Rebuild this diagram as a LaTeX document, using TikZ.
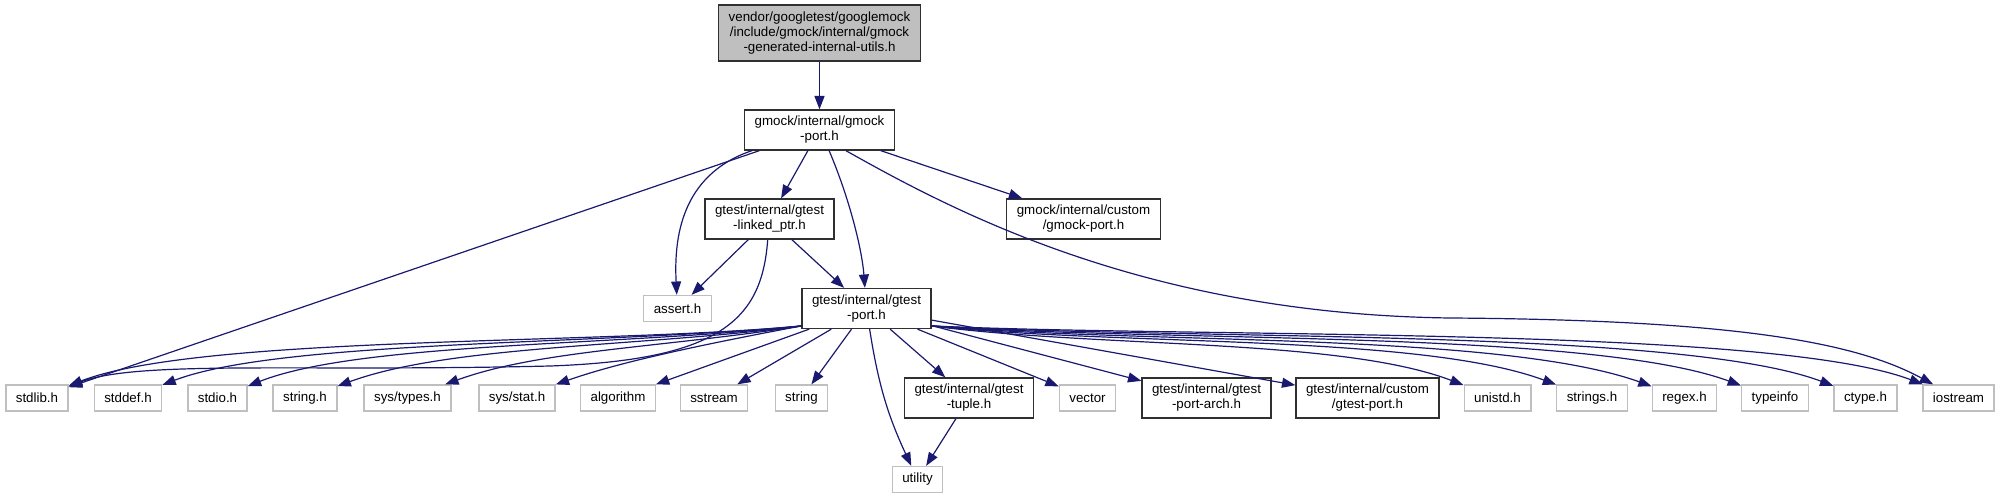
\documentclass[tikz,border=0pt]{standalone}
\usepackage{fontspec}
\setmainfont{Liberation Sans}
\usetikzlibrary{arrows.meta}

\definecolor{edgeblue}{HTML}{191970}
\definecolor{hdrline}{HTML}{303030}
\definecolor{sysline}{HTML}{BFBFBF}
\definecolor{topgray}{HTML}{BFBFBF}

\begin{document}
\begin{tikzpicture}[x=0.75pt, y=-0.75pt,
    every node/.style={rectangle, fill=white, font=\fontsize{10}{11.3}\selectfont, align=center, inner xsep=7.5pt, inner ysep=0pt, line width=1pt},
    hdr/.style={draw=hdrline, minimum height=30pt},
    syshdr/.style={draw=sysline, minimum height=19.5pt},
    arrow/.style={->, >={Triangle[length=10pt, width=7.5pt]}, draw=edgeblue, line width=0.9pt}
]
\useasboundingbox (0,0) rectangle (2003,499);

% Nodos de arriba
\node[hdr, fill=topgray, minimum height=42pt] (top) at (819.5,33) {vendor/googletest/googlemock\\/include/gmock/internal/gmock\\-generated-internal-utils.h};
\node[hdr] (gmockport) at (819.5,130) {gmock/internal/gmock\\-port.h};
\node[hdr] (linkedptr) at (769.5,219) {gtest/internal/gtest\\-linked\_ptr.h};
\node[hdr] (gmockcustom) at (1083.5,219) {gmock/internal/custom\\/gmock-port.h};
\node[syshdr] (assert) at (677.5,308.5) {assert.h};
\node[hdr] (gtestport) at (866.5,308.5) {gtest/internal/gtest\\-port.h};

% Fila de abajo
\node[syshdr] (stdlib) at (37,398) {stdlib.h};
\node[syshdr] (stddef) at (128,398) {stddef.h};
\node[syshdr] (stdio) at (217.5,398) {stdio.h};
\node[syshdr] (stringh) at (305,398) {string.h};
\node[syshdr] (systypes) at (407.5,398) {sys/types.h};
\node[syshdr] (sysstat) at (517,398) {sys/stat.h};
\node[syshdr] (algorithm) at (618,398) {algorithm};
\node[syshdr] (sstream) at (714,398) {sstream};
\node[syshdr] (string) at (801.5,398) {string};
\node[hdr] (tuple) at (969,398) {gtest/internal/gtest\\-tuple.h};
\node[syshdr] (vector) at (1087.5,398) {vector};
\node[hdr] (portarch) at (1206.5,398) {gtest/internal/gtest\\-port-arch.h};
\node[hdr] (gtestcustom) at (1367.5,398) {gtest/internal/custom\\/gtest-port.h};
\node[syshdr] (unistd) at (1497.5,398) {unistd.h};
\node[syshdr] (strings) at (1592,398) {strings.h};
\node[syshdr] (regex) at (1684.5,398) {regex.h};
\node[syshdr] (typeinfo) at (1775,398) {typeinfo};
\node[syshdr] (ctype) at (1865.5,398) {ctype.h};
\node[syshdr] (iostream) at (1958.5,398) {iostream};
\node[syshdr] (utility) at (917.5,479.5) {utility};

% Flechas de arriba
\draw[arrow] (top) -- (gmockport);
\draw[arrow] (gmockport) -- (linkedptr);
\draw[arrow] (gmockport) -- (gmockcustom);
\draw[arrow] (gmockport) -- (stdlib);
\draw[arrow] (gmockport.197) .. controls (680,175) and (674,240) .. (assert);
\draw[arrow] (gmockport.295) .. controls (850,200) and (862,250) .. (gtestport);
\draw[arrow] (gmockport.322) .. controls (960,215) and (1150,314) .. (1450,318) .. controls (1750,320) and (1860,345) .. (iostream);
\draw[arrow] (linkedptr) -- (assert);
\draw[arrow] (linkedptr) -- (gtestport);
\draw[arrow] (linkedptr.265) .. controls (762,320) and (720,360) .. (550,366) .. controls (300,372) and (140,360) .. (stdlib);

% Flechas de gtest-port.h
\draw[arrow] (gtestport.195) .. controls (600,345) and (200,335) .. (stdlib);
\draw[arrow] (gtestport.195) .. controls (600,345) and (280,340) .. (stddef);
\draw[arrow] (gtestport.195) .. controls (620,346) and (360,342) .. (stdio);
\draw[arrow] (gtestport.195) .. controls (640,347) and (450,345) .. (stringh);
\draw[arrow] (gtestport.195) .. controls (660,348) and (540,350) .. (systypes);
\draw[arrow] (gtestport.195) .. controls (700,345) and (620,362) .. (sysstat);
\draw[arrow] (gtestport) -- (algorithm);
\draw[arrow] (gtestport) -- (sstream);
\draw[arrow] (gtestport) -- (string);
\draw[arrow] (gtestport) to[bend right=8] (utility);
\draw[arrow] (gtestport) -- (tuple);
\draw[arrow] (gtestport) -- (vector);
\draw[arrow] (gtestport) -- (portarch);
\draw[arrow] (gtestport) -- (gtestcustom);
\draw[arrow] (gtestport.345) .. controls (1100,348) and (1340,338) .. (unistd);
\draw[arrow] (gtestport.345) .. controls (1120,346) and (1420,334) .. (strings);
\draw[arrow] (gtestport.345) .. controls (1140,344) and (1500,332) .. (regex);
\draw[arrow] (gtestport.345) .. controls (1160,342) and (1590,330) .. (typeinfo);
\draw[arrow] (gtestport.345) .. controls (1180,340) and (1680,328) .. (ctype);
\draw[arrow] (gtestport.345) .. controls (1200,338) and (1770,326) .. (iostream);
\draw[arrow] (tuple) -- (utility);

\end{tikzpicture}
\end{document}
